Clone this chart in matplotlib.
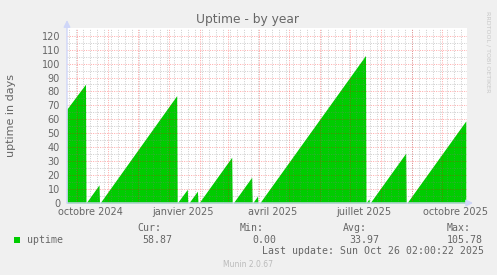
import matplotlib
matplotlib.use('Agg')
import matplotlib.pyplot as plt
import matplotlib.dates as mdates
from matplotlib.patches import Rectangle
import numpy as np
import pandas as pd

# ---------------- data ----------------
start_time = pd.Timestamp('2024-09-21 02:00')
end_time = pd.Timestamp('2025-10-26 02:00')

days_since_start = [0, 18.5, 19, 32, 32.5, 33, 109.7, 110.2, 120.3, 120.8, 121.8,
                    130.4, 131, 131.9, 164.7, 165.2, 166.2, 184.7, 185.2, 185.6,
                    190.5, 191, 192.7, 298.5, 299, 302, 302.5, 303, 338.7, 339.2,
                    339.9, 398.8]
uptime_days = [67.5, 85.2, 0, 13, 0, 0, 77, 0, 9.8, 0, 0,
               8.5, 0, 0, 32.8, 0, 0, 18.5, 0, 0,
               5, 0, 0, 105.78, 0, 3, 0, 0, 35.7, 0,
               0, 58.87]

y_ticks = [0, 10, 20, 30, 40, 50, 60, 70, 80, 90, 100, 110, 120]
x_label_dates = ['2024-10-15', '2025-01-15', '2025-04-15', '2025-07-15', '2025-10-15']
x_labels = ['octobre 2024', 'janvier 2025', 'avril 2025', 'juillet 2025', 'octobre 2025']

legend_name = 'uptime'
stat_names = ['Cur:', 'Min:', 'Avg:', 'Max:']
stat_values = ['58.87', '0.00', '33.97', '105.78']
last_update = 'Last update: Sun Oct 26 02:00:22 2025'

# ---------------- style ----------------
W, H = 497, 275
BG = '#F0F0F0'
GREEN = '#00CC00'
FONT_C = '#666666'
AXIS_C = '#CFD6F8'

fig = plt.figure(figsize=(W / 100, H / 100), dpi=100, facecolor=BG)
L, R, T, B = 67, 467, 28, 203
ax = fig.add_axes([L / W, 1 - B / H, (R - L) / W, (B - T) / H])
ax.set_facecolor('white')

dates = start_time + pd.to_timedelta(days_since_start, unit='D')
xnum = mdates.date2num(dates.to_pydatetime())
ax.fill_between(xnum, uptime_days, 0, color=GREEN, lw=0, zorder=2)

ax.set_xlim(mdates.date2num(start_time.to_pydatetime()), mdates.date2num(end_time.to_pydatetime()))
ax.set_ylim(0, 125.5)

dots = (0, (1, 1.4))
major_c = (1, 0, 0, 0.35)
minor_c = (0.5, 0.5, 0.5, 0.4)

# horizontal grid
for v in np.arange(5, 125, 10):
    ax.axhline(v, color=minor_c, lw=0.7, ls=dots, zorder=3)
for v in y_ticks[1:]:
    ax.axhline(v, color=major_c, lw=0.7, ls=dots, zorder=3)

# vertical grid
weeks = pd.date_range(start_time, end_time, freq='W-MON')
months = pd.date_range('2024-10-01', end_time, freq='MS')
for d in weeks:
    ax.axvline(mdates.date2num(d.to_pydatetime()), color=minor_c, lw=0.7, ls=dots, zorder=3)
for d in months:
    ax.axvline(mdates.date2num(d.to_pydatetime()), color=major_c, lw=0.7, ls=dots, zorder=3)

for s in ax.spines.values():
    s.set_visible(False)

ax.set_yticks(y_ticks)
ax.set_yticklabels([str(v) for v in y_ticks])
ax.set_xticks([mdates.date2num(pd.Timestamp(d).to_pydatetime()) for d in x_label_dates])
ax.set_xticklabels(x_labels)
ax.tick_params(axis='both', length=0, labelsize=7, labelcolor=FONT_C)
ax.tick_params(axis='y', pad=5)
ax.tick_params(axis='x', pad=3.2)

# axis arrows
ax.annotate('', xy=(0, 1.045), xytext=(0, 0), xycoords='axes fraction',
            arrowprops=dict(arrowstyle='-|>,head_length=0.4,head_width=0.2', color=AXIS_C, lw=1,
                            shrinkA=0, shrinkB=0), annotation_clip=False, zorder=5)
ax.annotate('', xy=(1.015, 0), xytext=(0, 0), xycoords='axes fraction',
            arrowprops=dict(arrowstyle='-|>,head_length=0.4,head_width=0.2', color=AXIS_C, lw=1,
                            shrinkA=0, shrinkB=0), annotation_clip=False, zorder=5)

def fx(x):
    return x / W

def fy(y):
    return 1 - y / H

fig.text(fx(248), fy(23.5), 'Uptime - by year', ha='center', va='baseline',
         fontsize=8.8, color=FONT_C)
fig.text(fx(11), fy(115.5), 'uptime in days', rotation=90, ha='center', va='center',
         fontsize=8, color=FONT_C)
fig.text(fx(488), fy(52), 'RRDTOOL / TOBI OETIKER', rotation=270, ha='center', va='center',
         fontsize=4.6, color='#C8C8C8')

mono = 'DejaVu Sans Mono'
head_x = [137, 240, 343, 447]
val_x = [142.7, 252, 349, 447]
for name, xx in zip(stat_names, head_x):
    fig.text(fx(xx), fy(228), name, ha='left', va='center', family=mono, fontsize=7.1, color=FONT_C)
for val, xx in zip(stat_values, val_x):
    fig.text(fx(xx), fy(240), val, ha='left', va='center', family=mono, fontsize=7.1, color=FONT_C)
fig.text(fx(26.7), fy(240), legend_name, ha='left', va='center', family=mono, fontsize=7.1, color=FONT_C)
fig.patches.append(Rectangle((fx(14), fy(243)), 6 / W, 6 / H, transform=fig.transFigure,
                             facecolor=GREEN, edgecolor='none'))
fig.text(fx(261.7), fy(250.7), last_update, ha='left', va='center', family=mono,
         fontsize=7.1, color=FONT_C)
fig.text(fx(248), fy(264.3), 'Munin 2.0.67', ha='center', va='center', fontsize=5.5, color='#BBBBBB')

fig.savefig('out.png', dpi=100, facecolor=BG)
